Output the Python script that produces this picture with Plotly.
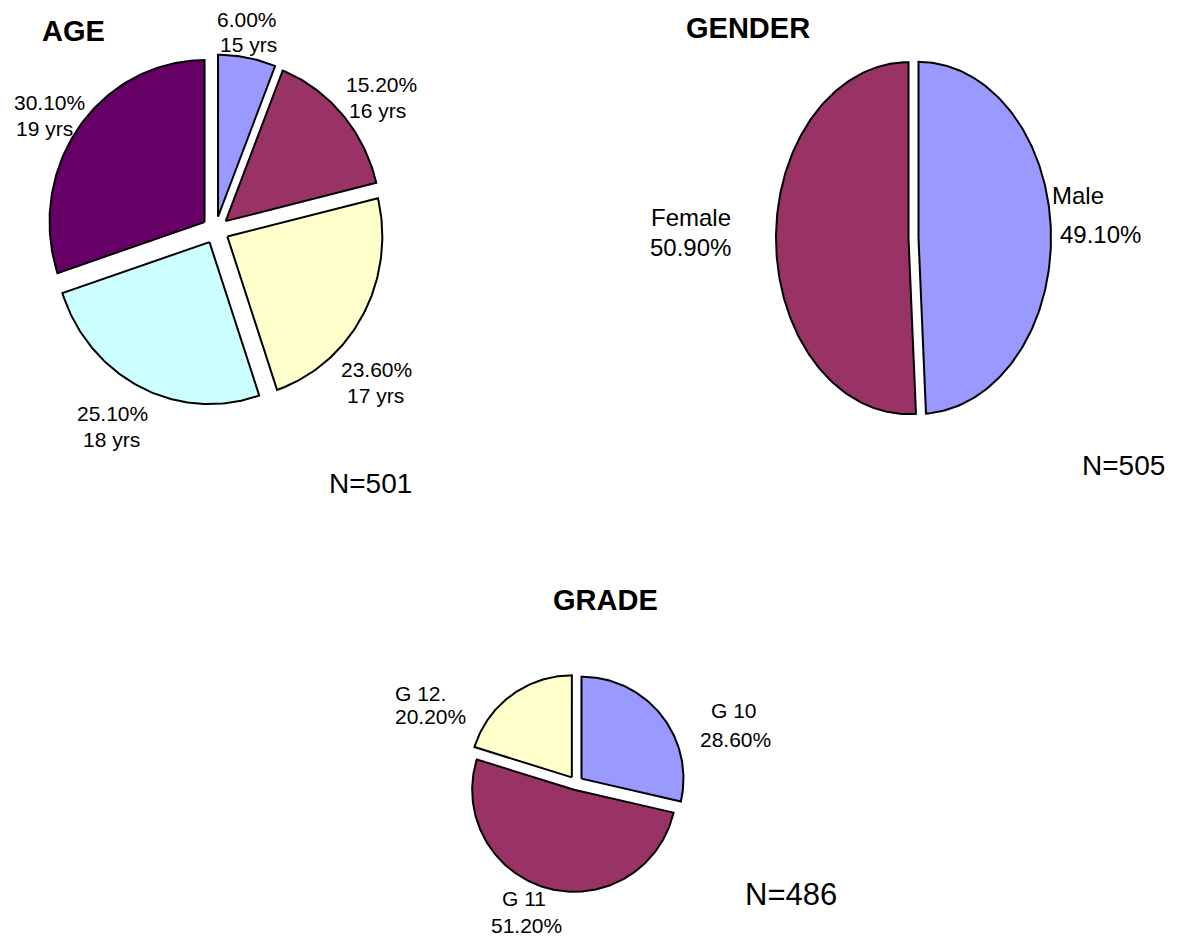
import numpy as np
import plotly.graph_objects as go

# ---- data ----
age_groups = ["15 yrs", "16 yrs", "17 yrs", "18 yrs", "19 yrs"]
age_pct = [6.0, 15.2, 23.6, 25.1, 30.1]
age_n = 501

gender_groups = ["Male", "Female"]
gender_pct = [49.1, 50.9]
gender_n = 505

grade_groups = ["G 10", "G 11", "G 12."]
grade_pct = [28.6, 51.2, 20.2]
grade_n = 486

# ---- styling ----
W, H = 1183, 939
FONT = "Liberation Sans, Arial, sans-serif"
PERIWINKLE = "#9999FF"
PLUM = "#993366"
IVORY = "#FFFFCC"
ICE = "#CCFFFF"
DEEP_PURPLE = "#660066"

age_colors = [PERIWINKLE, PLUM, IVORY, ICE, DEEP_PURPLE]
gender_colors = [PERIWINKLE, PLUM]
grade_colors = [PERIWINKLE, PLUM, IVORY]

# pie geometry in pixels: centre, horizontal/vertical radius, explode distance
pies = {
    "age": dict(cx=215.5, cy=230, rx=155, ry=162, pull=13.5, axis=""),
    "gender": dict(cx=913.5, cy=238, rx=132.5, ry=176, pull=5, axis="2"),
    "grade": dict(cx=576, cy=783, rx=102, ry=102, pull=7, axis="3"),
}

fig = go.Figure()


def add_pie(values, names, colors, geo):
    """Exploded pie drawn clockwise from 12 o'clock on a unit circle;
    the axis ranges turn the unit circle into the wanted ellipse."""
    total = float(sum(values))
    start = 0.0
    for name, v, col in zip(names, values, colors):
        a0, a1 = start / total, (start + v) / total
        start += v
        n = max(12, int(360 * (a1 - a0)) + 2)
        th = np.linspace(2 * np.pi * a0, 2 * np.pi * a1, n)
        tm = np.pi * (a0 + a1)
        dx = geo["pull"] / geo["rx"] * np.sin(tm)
        dy = geo["pull"] / geo["ry"] * np.cos(tm)
        xs = np.concatenate([[dx], dx + np.sin(th), [dx]])
        ys = np.concatenate([[dy], dy + np.cos(th), [dy]])
        fig.add_trace(go.Scatter(
            x=xs, y=ys, mode="lines", fill="toself", fillcolor=col,
            line=dict(color="black", width=2),
            xaxis="x" + geo["axis"], yaxis="y" + geo["axis"],
            name=name, text=f"{name}: {v:.2f}%", hoveron="fills",
            hoverinfo="text", showlegend=False,
        ))


add_pie(age_pct, age_groups, age_colors, pies["age"])
add_pie(gender_pct, gender_groups, gender_colors, pies["gender"])
add_pie(grade_pct, grade_groups, grade_colors, pies["grade"])

# one invisible axis pair per pie, each spanning the full canvas
axes = {}
for key, geo in pies.items():
    xr = [(0 - geo["cx"]) / geo["rx"], (W - geo["cx"]) / geo["rx"]]
    yr = [-(H - geo["cy"]) / geo["ry"], geo["cy"] / geo["ry"]]
    xa = dict(range=xr, visible=False, fixedrange=True, domain=[0, 1])
    ya = dict(range=yr, visible=False, fixedrange=True, domain=[0, 1])
    suf = geo["axis"]
    if suf:
        xa["overlaying"] = "x"
        ya["overlaying"] = "y"
        xa["anchor"] = "y" + suf
        ya["anchor"] = "x" + suf
    axes["xaxis" + suf] = xa
    axes["yaxis" + suf] = ya


def note(text, px, py, size, bold=False, xanchor="center"):
    fig.add_annotation(
        x=px / W, y=1 - py / H, xref="paper", yref="paper",
        text=f"<b>{text}</b>" if bold else text, showarrow=False,
        xanchor=xanchor, yanchor="middle",
        font=dict(family=FONT, size=size, color="black"),
    )


def pct(v):
    return f"{v:.2f}%"


# titles
note("AGE", 73, 31, 29, bold=True)
note("GENDER", 748, 28, 29, bold=True)
note("GRADE", 605, 600, 29, bold=True)

# age slice labels: percentage above, group below
age_label_pos = [(247, 19.5, 248, 45), (381, 84.5, 377, 110),
                 (376.5, 370, 375, 396), (112.5, 414, 111.5, 440),
                 (49, 102.5, 44, 128)]
for g, v, (x1, y1, x2, y2) in zip(age_groups, age_pct, age_label_pos):
    note(pct(v), x1, y1, 21)
    note(g, x2, y2, 21)

# gender slice labels: group above, percentage below
note(gender_groups[1], 649, 218, 24, xanchor="left")
note(pct(gender_pct[1]), 648, 247.5, 24, xanchor="left")
note(gender_groups[0], 1050, 196, 24, xanchor="left")
note(pct(gender_pct[0]), 1058, 234.5, 24, xanchor="left")

# grade slice labels
note(grade_groups[0], 733.5, 710.5, 21)
note(pct(grade_pct[0]), 735, 739.5, 21)
note(grade_groups[1], 524, 898, 21)
note(pct(grade_pct[1]), 526, 925.5, 21)
note(grade_groups[2], 393, 693, 21, xanchor="left")
note(pct(grade_pct[2]), 393, 716.5, 21, xanchor="left")

# sample sizes
note(f"N={age_n}", 370, 483, 28)
note(f"N={gender_n}", 1123, 466, 28)
note(f"N={grade_n}", 791, 894, 31)

fig.update_layout(
    width=W, height=H, autosize=False,
    margin=dict(l=0, r=0, t=0, b=0),
    paper_bgcolor="white", plot_bgcolor="white",
    showlegend=False,
    **axes,
)

fig.write_html("out.html", config={"displayModeBar": False})
